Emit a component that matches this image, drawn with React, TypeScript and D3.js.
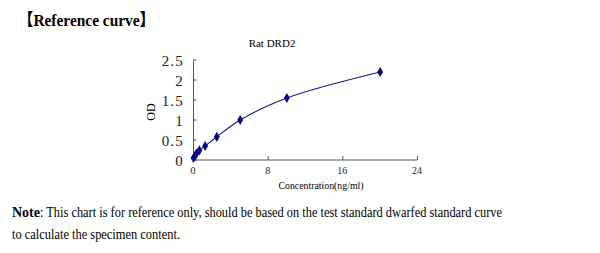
import React from "react";
import * as d3 from "d3";

const concentrations = [0, 0.156, 0.312, 0.625, 1.25, 2.5, 5, 10, 20];
const odValues = [0.05, 0.1, 0.16, 0.24, 0.35, 0.58, 1.0, 1.55, 2.2];
const xTicks = [0, 8, 16, 24];
const yTicks = [0, 0.5, 1, 1.5, 2, 2.5];

const titleText = "【Reference curve】";
const chartTitle = "Rat DRD2";
const xLabel = "Concentration(ng/ml)";
const yLabel = "OD";
const noteBold = "Note";
const noteLine1 = ": This chart is for reference only, should be based on the test standard dwarfed standard curve";
const noteLine2 = "to calculate the specimen content.";

export default function App() {
  const W = 600, H = 253;
  const x = d3.scaleLinear().domain([0, 24]).range([193.5, 417.5]);
  const y = d3.scaleLinear().domain([0, 2.5]).range([160, 60]);
  const pts = concentrations.map((c, i) => [x(c), y(odValues[i])] as [number, number]);
  const line = d3.line().curve(d3.curveCatmullRom.alpha(0.5))(pts) || "";
  const diamond = d3.symbol().type(d3.symbolDiamond).size(30)() || "";
  const serif = "'Liberation Serif', 'Times New Roman', serif";
  const axisColor = "#555";
  return (
    <svg width={W} height={H} style={{ position: "absolute", left: 0, top: 0, background: "#fff" }}>
      <rect width={W} height={H} fill="#fff" />
      <text x={18} y={26} fontFamily={`${serif}, 'Noto Sans CJK SC'`} fontWeight="bold" fontSize={17} fill="#000" textLength={137} lengthAdjust="spacingAndGlyphs">{titleText}</text>
      <text x={272} y={47} textAnchor="middle" fontFamily={serif} fontSize={11} fill="#000">{chartTitle}</text>
      <line x1={x(0)} x2={x(0)} y1={y(2.5)} y2={y(0)} stroke={axisColor} strokeWidth={1} />
      <line x1={x(0)} x2={x(24)} y1={y(0)} y2={y(0)} stroke={axisColor} strokeWidth={1} />
      {yTicks.map((t) => (
        <g key={"y" + t}>
          <line x1={x(0)} x2={x(0) + 3} y1={y(t)} y2={y(t)} stroke={axisColor} />
          <text x={184} y={y(t) + 5.5} textAnchor="end" fontFamily={serif} fontSize={15} letterSpacing={1.2} fill="#222">{d3.format("")(t)}</text>
        </g>
      ))}
      {xTicks.map((t) => (
        <g key={"x" + t}>
          <line x1={x(t)} x2={x(t)} y1={y(0)} y2={y(0) - 4} stroke={axisColor} />
          <text x={x(t) - 0.5} y={174} textAnchor="middle" fontFamily={serif} fontSize={10} fill="#222">{t}</text>
        </g>
      ))}
      <text x={321} y={189} textAnchor="middle" fontFamily={serif} fontSize={11} fill="#000" textLength={85} lengthAdjust="spacingAndGlyphs">{xLabel}</text>
      <text transform={`translate(155,112) rotate(-90)`} textAnchor="middle" fontFamily={serif} fontSize={12} fill="#000">{yLabel}</text>
      <path d={line} fill="none" stroke="#1a1a7a" strokeWidth={1.2} />
      {pts.map((p, i) => (
        <path key={i} d={diamond} transform={`translate(${p[0]},${p[1]})`} fill="#0a0a80" />
      ))}
      <text x={12} y={217} fontFamily={serif} fontSize={14.5} fontWeight="bold" fill="#000" textLength={28} lengthAdjust="spacingAndGlyphs">{noteBold}</text>
      <text x={40} y={217} fontFamily={serif} fontSize={14.5} fill="#000" textLength={462} lengthAdjust="spacingAndGlyphs">{noteLine1}</text>
      <text x={12} y={239} fontFamily={serif} fontSize={14.5} fill="#000" textLength={168} lengthAdjust="spacingAndGlyphs">{noteLine2}</text>
    </svg>
  );
}
